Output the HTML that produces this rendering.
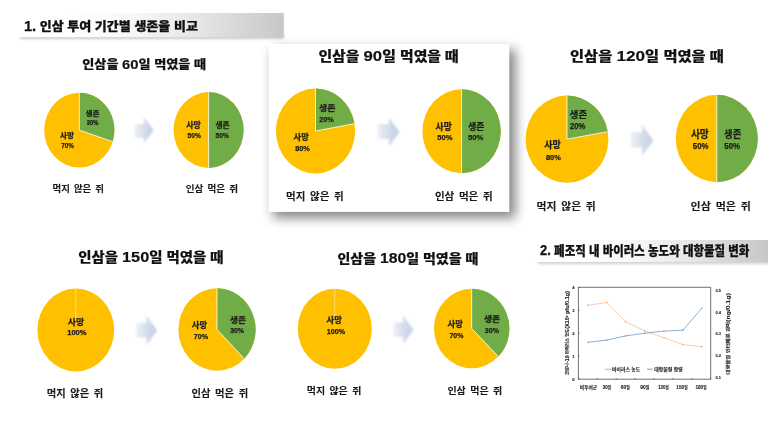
<!DOCTYPE html>
<html lang="ko"><head><meta charset="utf-8"><title>인삼 투여 기간별 생존율 비교</title>
<style>
html,body{margin:0;padding:0;background:#fff;}
body{width:768px;height:432px;overflow:hidden;position:relative;font-family:"Liberation Sans","Noto Sans CJK KR","NanumGothic",sans-serif;}
svg{position:absolute;left:0;top:0;display:block}
text{font-family:"Liberation Sans","Noto Sans CJK KR","NanumGothic",sans-serif;fill:#111;}
.h1{font-size:13.5px;font-weight:900;stroke:#111;stroke-width:.25px;stroke-linejoin:round}
.h2{font-size:14px;font-weight:900;stroke:#111;stroke-width:.15px;stroke-linejoin:round}
.pl{font-size:8px;font-weight:700;fill:#1c1c1c;stroke:#1c1c1c;stroke-width:.25px}
.cap{font-size:10.5px;font-weight:700;word-spacing:.16em;fill:#1a1a1a;stroke:#1a1a1a;stroke-width:.1px}
.ax{font-size:4px;fill:#222;text-anchor:middle;font-weight:700}
.axs{stroke:#222;stroke-width:.5px}
.lg{font-size:4.3px;fill:#222;font-weight:700;stroke:#222;stroke-width:.12px}
</style></head><body>
<svg width="768" height="432" viewBox="0 0 768 432">
<defs>
<linearGradient id="tb" x1="0" x2="1" y1="0" y2="0"><stop offset="0" stop-color="#ffffff"/><stop offset=".2" stop-color="#ffffff"/><stop offset=".42" stop-color="#f8f8f8"/><stop offset=".68" stop-color="#e6e6e7"/><stop offset="1" stop-color="#c6c7c9"/></linearGradient>
<linearGradient id="ag" x1="0" x2="1" y1="0" y2="0"><stop offset="0" stop-color="#edf0f6"/><stop offset=".45" stop-color="#d8dfeb"/><stop offset="1" stop-color="#c2cee2"/></linearGradient>
<filter id="ash" x="-30%" y="-30%" width="160%" height="160%"><feGaussianBlur stdDeviation="0.8"/></filter>
<filter id="sh" x="-20%" y="-20%" width="140%" height="140%"><feGaussianBlur stdDeviation="6"/></filter>
<filter id="sh2" x="-20%" y="-100%" width="140%" height="300%"><feGaussianBlur stdDeviation="1.5"/></filter>
</defs>
<rect width="768" height="432" fill="#fff"/>

<rect x="20" y="35" width="264" height="3.6" fill="#000" opacity=".25" filter="url(#sh2)"/>
<rect x="15" y="13" width="268.8" height="24.2" fill="url(#tb)"/>
<text class="h1" style="font-size:12.36px" x="23.9" y="30.69" textLength="174.0" lengthAdjust="spacingAndGlyphs"><tspan style="font-size:113%">1.</tspan> 인삼 투여 기간별 생존율 비교</text>
<rect x="538" y="260" width="240" height="3.6" fill="#000" opacity=".22" filter="url(#sh2)"/>
<rect x="528" y="240" width="240" height="22" fill="url(#tb)"/>
<text class="h1" style="font-size:12.88px" x="540.1" y="255.04" textLength="209.3" lengthAdjust="spacingAndGlyphs"><tspan style="font-size:113%">2.</tspan> 폐조직 내 바이러스 농도와 대항물질 변화</text>
<rect x="273" y="49.5" width="242.5" height="168.5" fill="#000" opacity=".48" filter="url(#sh)"/>
<rect x="268.6" y="44.1" width="240.7" height="167.8" fill="#fff"/>
<text class="h2" style="font-size:12.07px" x="82.3" y="69.31" textLength="123.8" lengthAdjust="spacingAndGlyphs">인삼을 <tspan style="font-size:113%">60</tspan>일 먹였을 때</text>
<text class="h2" style="font-size:13.20px" x="318.4" y="61.11" textLength="140.4" lengthAdjust="spacingAndGlyphs">인삼을 <tspan style="font-size:113%">90</tspan>일 먹였을 때</text>
<text class="h2" style="font-size:13.30px" x="570.1" y="61.20" textLength="153.6" lengthAdjust="spacingAndGlyphs">인삼을 <tspan style="font-size:113%">120</tspan>일 먹였을 때</text>
<text class="h2" style="font-size:13.30px" x="78.3" y="261.80" textLength="145.2" lengthAdjust="spacingAndGlyphs">인삼을 <tspan style="font-size:113%">150</tspan>일 먹였을 때</text>
<text class="h2" style="font-size:12.82px" x="337.5" y="262.85" textLength="140.8" lengthAdjust="spacingAndGlyphs">인삼을 <tspan style="font-size:113%">180</tspan>일 먹였을 때</text>
<ellipse cx="79.3" cy="130.1" rx="35.1" ry="37.4" fill="#FFC000"/>
<path d="M79.3 130.1 L79.3 92.69999999999999 A35.1 37.4 0 0 1 112.68 141.66 Z" fill="#70AD47"/>
<path d="M79.3 92.69999999999999 L79.3 130.1 L112.68 141.66" fill="none" stroke="#fff" stroke-opacity=".8" stroke-width="1"/>
<text class="pl" style="font-size:7.34px" x="60.0" y="138.04" textLength="14.1" lengthAdjust="spacingAndGlyphs">사망</text>
<text class="pl" style="font-size:7.04px" x="61.3" y="148.10" textLength="12.6" lengthAdjust="spacingAndGlyphs">70%</text>
<text class="pl" style="font-size:6.73px" x="85.5" y="115.69" textLength="14.0" lengthAdjust="spacingAndGlyphs">생존</text>
<text class="pl" style="font-size:6.76px" x="86.7" y="125.10" textLength="11.6" lengthAdjust="spacingAndGlyphs">30%</text>
<ellipse cx="208.6" cy="130" rx="35" ry="37.9" fill="#FFC000"/>
<path d="M208.6 130 L208.6 92.1 A35 37.9 0 0 1 208.60 167.90 Z" fill="#70AD47"/>
<path d="M208.6 92.1 L208.6 130 L208.60 167.90" fill="none" stroke="#fff" stroke-opacity=".8" stroke-width="1"/>
<text class="pl" style="font-size:7.45px" x="186.2" y="128.23" textLength="14.6" lengthAdjust="spacingAndGlyphs">사망</text>
<text class="pl" style="font-size:7.18px" x="187.6" y="138.10" textLength="13.3" lengthAdjust="spacingAndGlyphs">50%</text>
<text class="pl" style="font-size:7.45px" x="215.4" y="128.23" textLength="14.2" lengthAdjust="spacingAndGlyphs">생존</text>
<text class="pl" style="font-size:7.18px" x="215.6" y="138.10" textLength="13.3" lengthAdjust="spacingAndGlyphs">50%</text>
<ellipse cx="315.5" cy="131" rx="39.6" ry="42.5" fill="#FFC000"/>
<path d="M315.5 131 L315.5 88.5 A39.6 42.5 0 0 1 354.50 123.62 Z" fill="#70AD47"/>
<path d="M315.5 88.5 L315.5 131 L354.50 123.62" fill="none" stroke="#fff" stroke-opacity=".8" stroke-width="1"/>
<text class="pl" style="font-size:8.06px" x="293.6" y="140.27" textLength="15.3" lengthAdjust="spacingAndGlyphs">사망</text>
<text class="pl" style="font-size:7.59px" x="295.2" y="151.00" textLength="14.6" lengthAdjust="spacingAndGlyphs">80%</text>
<text class="pl" style="font-size:8.47px" x="319.0" y="111.04" textLength="16.4" lengthAdjust="spacingAndGlyphs">생존</text>
<text class="pl" style="font-size:8.00px" x="319.2" y="121.50" textLength="14.5" lengthAdjust="spacingAndGlyphs">20%</text>
<ellipse cx="461.6" cy="131.2" rx="39.2" ry="42.0" fill="#FFC000"/>
<path d="M461.6 131.2 L461.6 89.19999999999999 A39.2 42.0 0 0 1 461.60 173.20 Z" fill="#70AD47"/>
<path d="M461.6 89.19999999999999 L461.6 131.2 L461.60 173.20" fill="none" stroke="#fff" stroke-opacity=".8" stroke-width="1"/>
<text class="pl" style="font-size:8.57px" x="435.6" y="129.53" textLength="16.1" lengthAdjust="spacingAndGlyphs">사망</text>
<text class="pl" style="font-size:7.73px" x="437.2" y="140.30" textLength="15.2" lengthAdjust="spacingAndGlyphs">50%</text>
<text class="pl" style="font-size:8.57px" x="468.2" y="129.53" textLength="16.1" lengthAdjust="spacingAndGlyphs">생존</text>
<text class="pl" style="font-size:7.73px" x="468.1" y="140.30" textLength="15.3" lengthAdjust="spacingAndGlyphs">50%</text>
<ellipse cx="567" cy="139.2" rx="41.4" ry="43.6" fill="#FFC000"/>
<path d="M567 139.2 L567 95.6 A41.4 43.6 0 0 1 607.77 131.63 Z" fill="#70AD47"/>
<path d="M567 95.6 L567 139.2 L607.77 131.63" fill="none" stroke="#fff" stroke-opacity=".8" stroke-width="1"/>
<text class="pl" style="font-size:8.57px" x="544.2" y="148.03" textLength="16.5" lengthAdjust="spacingAndGlyphs">사망</text>
<text class="pl" style="font-size:7.59px" x="545.9" y="159.70" textLength="14.9" lengthAdjust="spacingAndGlyphs">80%</text>
<text class="pl" style="font-size:8.57px" x="569.8" y="117.93" textLength="17.3" lengthAdjust="spacingAndGlyphs">생존</text>
<text class="pl" style="font-size:8.42px" x="570.0" y="129.30" textLength="15.4" lengthAdjust="spacingAndGlyphs">20%</text>
<ellipse cx="716.8" cy="138.5" rx="41" ry="43.7" fill="#FFC000"/>
<path d="M716.8 138.5 L716.8 94.8 A41 43.7 0 0 1 716.80 182.20 Z" fill="#70AD47"/>
<path d="M716.8 94.8 L716.8 138.5 L716.80 182.20" fill="none" stroke="#fff" stroke-opacity=".8" stroke-width="1"/>
<text class="pl" style="font-size:9.79px" x="690.9" y="137.52" textLength="17.9" lengthAdjust="spacingAndGlyphs">사망</text>
<text class="pl" style="font-size:9.52px" x="692.8" y="149.00" textLength="15.8" lengthAdjust="spacingAndGlyphs">50%</text>
<text class="pl" style="font-size:9.79px" x="724.1" y="137.52" textLength="17.2" lengthAdjust="spacingAndGlyphs">생존</text>
<text class="pl" style="font-size:9.52px" x="724.3" y="149.00" textLength="15.8" lengthAdjust="spacingAndGlyphs">50%</text>
<ellipse cx="75.8" cy="330" rx="38.4" ry="41.4" fill="#FFC000"/>
<line x1="75.8" y1="322" x2="75.8" y2="288.6" stroke="#fff" stroke-opacity=".6" stroke-width="0.8"/>
<text class="pl" style="font-size:8.36px" x="67.7" y="324.65" textLength="16.5" lengthAdjust="spacingAndGlyphs">사망</text>
<text class="pl" style="font-size:7.04px" x="67.3" y="335.30" textLength="19.1" lengthAdjust="spacingAndGlyphs">100%</text>
<ellipse cx="217" cy="329.5" rx="38.6" ry="41.2" fill="#FFC000"/>
<path d="M217 329.5 L217 288.3 A38.6 41.2 0 0 1 244.29 358.63 Z" fill="#70AD47"/>
<path d="M217 288.3 L217 329.5 L244.29 358.63" fill="none" stroke="#fff" stroke-opacity=".8" stroke-width="1"/>
<text class="pl" style="font-size:8.36px" x="191.8" y="327.85" textLength="15.3" lengthAdjust="spacingAndGlyphs">사망</text>
<text class="pl" style="font-size:7.73px" x="193.8" y="338.90" textLength="14.2" lengthAdjust="spacingAndGlyphs">70%</text>
<text class="pl" style="font-size:8.36px" x="230.0" y="322.75" textLength="16.0" lengthAdjust="spacingAndGlyphs">생존</text>
<text class="pl" style="font-size:7.59px" x="230.2" y="333.30" textLength="13.8" lengthAdjust="spacingAndGlyphs">30%</text>
<ellipse cx="334.8" cy="328.8" rx="37" ry="40" fill="#FFC000"/>
<line x1="334.8" y1="320.8" x2="334.8" y2="288.8" stroke="#fff" stroke-opacity=".6" stroke-width="0.8"/>
<text class="pl" style="font-size:7.55px" x="326.6" y="323.42" textLength="15.4" lengthAdjust="spacingAndGlyphs">사망</text>
<text class="pl" style="font-size:6.76px" x="326.8" y="334.20" textLength="18.2" lengthAdjust="spacingAndGlyphs">100%</text>
<ellipse cx="471.7" cy="328.5" rx="37.7" ry="39.7" fill="#FFC000"/>
<path d="M471.7 328.5 L471.7 288.8 A37.7 39.7 0 0 1 498.36 356.57 Z" fill="#70AD47"/>
<path d="M471.7 288.8 L471.7 328.5 L498.36 356.57" fill="none" stroke="#fff" stroke-opacity=".8" stroke-width="1"/>
<text class="pl" style="font-size:8.26px" x="447.6" y="327.26" textLength="15.3" lengthAdjust="spacingAndGlyphs">사망</text>
<text class="pl" style="font-size:8.00px" x="449.4" y="338.00" textLength="14.0" lengthAdjust="spacingAndGlyphs">70%</text>
<text class="pl" style="font-size:8.26px" x="483.9" y="321.76" textLength="16.3" lengthAdjust="spacingAndGlyphs">생존</text>
<text class="pl" style="font-size:7.59px" x="484.7" y="333.20" textLength="14.3" lengthAdjust="spacingAndGlyphs">30%</text>
<path d="M134.7 123.9 L143.9 123.9 L143.9 117.0 L153.7 130.3 L143.9 143.6 L143.9 137.8 L134.7 137.8 Z" fill="url(#ag)" filter="url(#ash)"/>
<path d="M377.7 124.0 L388.9 124.0 L388.9 117.0 L399.4 132.0 L388.9 147.0 L388.9 139.0 L377.7 139.0 Z" fill="url(#ag)" filter="url(#ash)"/>
<path d="M630.9 132.3 L642.1 132.3 L642.1 124.8 L653.3 140.4 L642.1 156.0 L642.1 147.4 L630.9 147.4 Z" fill="url(#ag)" filter="url(#ash)"/>
<path d="M136.2 322.9 L146.4 322.9 L146.4 315.4 L157.1 330.4 L146.4 345.5 L146.4 337.4 L136.2 337.4 Z" fill="url(#ag)" filter="url(#ash)"/>
<path d="M393.5 322.3 L403.1 322.3 L403.1 315.4 L413.5 329.9 L403.1 344.3 L403.1 336.8 L393.5 336.8 Z" fill="url(#ag)" filter="url(#ash)"/>
<text class="cap" style="font-size:8.83px" x="52.5" y="191.81" textLength="51.5" lengthAdjust="spacingAndGlyphs">먹지 않은 쥐</text>
<text class="cap" style="font-size:8.83px" x="185.7" y="191.81" textLength="52.4" lengthAdjust="spacingAndGlyphs">인삼 먹은 쥐</text>
<text class="cap" style="font-size:10.08px" x="286.1" y="199.99" textLength="57.7" lengthAdjust="spacingAndGlyphs">먹지 않은 쥐</text>
<text class="cap" style="font-size:10.08px" x="434.9" y="199.99" textLength="57.7" lengthAdjust="spacingAndGlyphs">인삼 먹은 쥐</text>
<text class="cap" style="font-size:9.89px" x="536.5" y="210.21" textLength="59.3" lengthAdjust="spacingAndGlyphs">먹지 않은 쥐</text>
<text class="cap" style="font-size:9.89px" x="690.6" y="210.21" textLength="60.2" lengthAdjust="spacingAndGlyphs">인삼 먹은 쥐</text>
<text class="cap" style="font-size:10.18px" x="46.8" y="396.98" textLength="56.4" lengthAdjust="spacingAndGlyphs">먹지 않은 쥐</text>
<text class="cap" style="font-size:10.18px" x="191.5" y="396.98" textLength="56.7" lengthAdjust="spacingAndGlyphs">인삼 먹은 쥐</text>
<text class="cap" style="font-size:9.60px" x="306.8" y="394.44" textLength="54.5" lengthAdjust="spacingAndGlyphs">먹지 않은 쥐</text>
<text class="cap" style="font-size:9.60px" x="447.4" y="394.44" textLength="54.9" lengthAdjust="spacingAndGlyphs">인삼 먹은 쥐</text>
<path d="M578.4 287.3 L578.4 379.2 L710.7 379.2 L710.7 287.3 Z" fill="none" stroke="#333" stroke-width=".7"/>
<polyline points="588.1,305.2 606.8,302.5 625.7,321.7 644.7,330.8 663.9,337.7 682.9,344.6 701.8,346.7" fill="none" stroke="#ED7D31" stroke-width="0.55" stroke-opacity="0.7"/>
<circle cx="588.1" cy="305.2" r=".7" fill="#ED7D31" fill-opacity=".8"/>
<circle cx="606.8" cy="302.5" r=".7" fill="#ED7D31" fill-opacity=".8"/>
<circle cx="625.7" cy="321.7" r=".7" fill="#ED7D31" fill-opacity=".8"/>
<circle cx="644.7" cy="330.8" r=".7" fill="#ED7D31" fill-opacity=".8"/>
<circle cx="663.9" cy="337.7" r=".7" fill="#ED7D31" fill-opacity=".8"/>
<circle cx="682.9" cy="344.6" r=".7" fill="#ED7D31" fill-opacity=".8"/>
<circle cx="701.8" cy="346.7" r=".7" fill="#ED7D31" fill-opacity=".8"/>
<polyline points="588.1,342.2 606.8,340.1 625.7,335.9 644.7,333.2 663.9,331.1 682.9,330.2 701.8,308.2" fill="none" stroke="#4A7FB8" stroke-width="0.7" stroke-opacity="0.9"/>
<circle cx="588.1" cy="342.2" r=".7" fill="#4A7FB8" fill-opacity=".8"/>
<circle cx="606.8" cy="340.1" r=".7" fill="#4A7FB8" fill-opacity=".8"/>
<circle cx="625.7" cy="335.9" r=".7" fill="#4A7FB8" fill-opacity=".8"/>
<circle cx="644.7" cy="333.2" r=".7" fill="#4A7FB8" fill-opacity=".8"/>
<circle cx="663.9" cy="331.1" r=".7" fill="#4A7FB8" fill-opacity=".8"/>
<circle cx="682.9" cy="330.2" r=".7" fill="#4A7FB8" fill-opacity=".8"/>
<circle cx="701.8" cy="308.2" r=".7" fill="#4A7FB8" fill-opacity=".8"/>
<line x1="578.4" y1="287.3" x2="579.8" y2="287.3" stroke="#333" stroke-width=".6"/>
<text class="ax axs" style="font-size:20px;text-anchor:middle" transform="translate(573.30,288.80) scale(0.2100)">4</text>
<line x1="578.4" y1="310.3" x2="579.8" y2="310.3" stroke="#333" stroke-width=".6"/>
<text class="ax axs" style="font-size:20px;text-anchor:middle" transform="translate(573.30,311.77) scale(0.2100)">3</text>
<line x1="578.4" y1="333.2" x2="579.8" y2="333.2" stroke="#333" stroke-width=".6"/>
<text class="ax axs" style="font-size:20px;text-anchor:middle" transform="translate(573.30,334.75) scale(0.2100)">2</text>
<line x1="578.4" y1="356.2" x2="579.8" y2="356.2" stroke="#333" stroke-width=".6"/>
<text class="ax axs" style="font-size:20px;text-anchor:middle" transform="translate(573.30,357.73) scale(0.2100)">1</text>
<line x1="578.4" y1="379.2" x2="579.8" y2="379.2" stroke="#333" stroke-width=".6"/>
<text class="ax axs" style="font-size:20px;text-anchor:middle" transform="translate(573.30,380.70) scale(0.2100)">0</text>
<text class="ax axs" style="font-size:20px;text-anchor:middle" transform="translate(718.30,291.80) scale(0.2000)">0.5</text>
<text class="ax axs" style="font-size:20px;text-anchor:middle" transform="translate(718.30,313.55) scale(0.2000)">0.4</text>
<text class="ax axs" style="font-size:20px;text-anchor:middle" transform="translate(718.30,335.30) scale(0.2000)">0.3</text>
<text class="ax axs" style="font-size:20px;text-anchor:middle" transform="translate(718.30,357.05) scale(0.2000)">0.2</text>
<text class="ax axs" style="font-size:20px;text-anchor:middle" transform="translate(718.30,378.80) scale(0.2000)">0.1</text>
<line x1="578.4" y1="378.0" x2="578.4" y2="379.2" stroke="#333" stroke-width=".6"/>
<line x1="597.3" y1="378.0" x2="597.3" y2="379.2" stroke="#333" stroke-width=".6"/>
<line x1="616.2" y1="378.0" x2="616.2" y2="379.2" stroke="#333" stroke-width=".6"/>
<line x1="635.1" y1="378.0" x2="635.1" y2="379.2" stroke="#333" stroke-width=".6"/>
<line x1="654.0" y1="378.0" x2="654.0" y2="379.2" stroke="#333" stroke-width=".6"/>
<line x1="672.9" y1="378.0" x2="672.9" y2="379.2" stroke="#333" stroke-width=".6"/>
<line x1="691.8" y1="378.0" x2="691.8" y2="379.2" stroke="#333" stroke-width=".6"/>
<line x1="710.7" y1="378.0" x2="710.7" y2="379.2" stroke="#333" stroke-width=".6"/>
<text class="ax axs" style="font-size:20px;text-anchor:start" transform="translate(579.80,389.00) scale(0.2150)" textLength="80.5" lengthAdjust="spacingAndGlyphs">비투여군</text>
<text class="ax axs" style="font-size:20px;text-anchor:start" transform="translate(602.70,389.00) scale(0.2150)" textLength="38.6" lengthAdjust="spacingAndGlyphs"><tspan style="font-size:128%">30</tspan>일</text>
<text class="ax axs" style="font-size:20px;text-anchor:start" transform="translate(620.80,389.00) scale(0.2150)" textLength="41.9" lengthAdjust="spacingAndGlyphs"><tspan style="font-size:128%">60</tspan>일</text>
<text class="ax axs" style="font-size:20px;text-anchor:start" transform="translate(640.20,389.00) scale(0.2150)" textLength="41.9" lengthAdjust="spacingAndGlyphs"><tspan style="font-size:128%">90</tspan>일</text>
<text class="ax axs" style="font-size:20px;text-anchor:start" transform="translate(657.90,389.00) scale(0.2150)" textLength="50.7" lengthAdjust="spacingAndGlyphs"><tspan style="font-size:128%">120</tspan>일</text>
<text class="ax axs" style="font-size:20px;text-anchor:start" transform="translate(676.30,389.00) scale(0.2150)" textLength="52.1" lengthAdjust="spacingAndGlyphs"><tspan style="font-size:128%">150</tspan>일</text>
<text class="ax axs" style="font-size:20px;text-anchor:start" transform="translate(695.40,389.00) scale(0.2150)" textLength="51.6" lengthAdjust="spacingAndGlyphs"><tspan style="font-size:128%">180</tspan>일</text>
<text class="ax axs" style="font-size:20px;text-anchor:start" transform="translate(569.20,375.00) rotate(-90) scale(0.2000)" textLength="420.0" lengthAdjust="spacingAndGlyphs">코로나<tspan style="font-size:128%">-19</tspan> 바이러스 농도<tspan style="font-size:128%">(X10</tspan>⁶ <tspan style="font-size:128%">pfu/0.1g)</tspan></text>
<text class="ax axs" style="font-size:20px;text-anchor:start" transform="translate(729.80,374.60) rotate(-90) scale(0.2000)" textLength="408.0" lengthAdjust="spacingAndGlyphs">대항물질 인터페론 감마<tspan style="font-size:128%">(ng/0.1g)</tspan></text>
<line x1="604.8" y1="369.2" x2="611" y2="369.2" stroke="#ED7D31" stroke-width=".7"/>
<text class="ax axs" style="font-size:20px;text-anchor:start" transform="translate(612.10,370.90) scale(0.2150)" textLength="130.7" lengthAdjust="spacingAndGlyphs">바이러스 농도</text>
<line x1="647.1" y1="369.2" x2="652.7" y2="369.2" stroke="#4A7FB8" stroke-width=".8"/>
<text class="ax axs" style="font-size:20px;text-anchor:start" transform="translate(654.20,370.90) scale(0.2150)" textLength="133.5" lengthAdjust="spacingAndGlyphs">대항물질 함량</text>
</svg></body></html>
